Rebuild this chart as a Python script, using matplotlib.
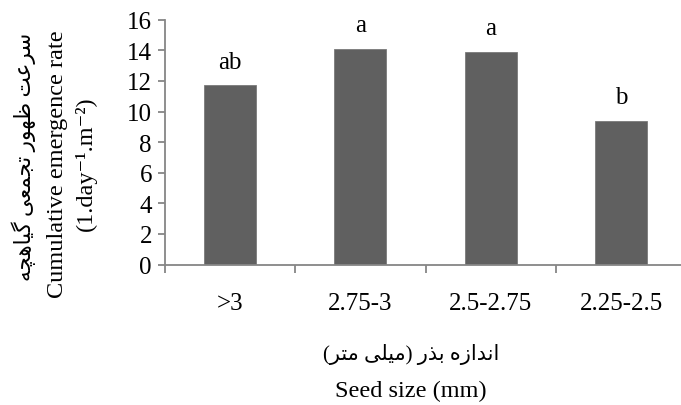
import matplotlib
matplotlib.use('Agg')
import matplotlib.pyplot as plt
import numpy as np

sizes = ['>3', '2.75-3', '2.5-2.75', '2.25-2.5']
rate = [11.7, 14.1, 13.9, 9.4]
groups = ['ab', 'a', 'a', 'b']

ylabel_fa = 'سرعت ظهور تجمعی گیاهچه'
ylabel_en = 'Cumulative emergence rate'
ylabel_unit = '(1.day⁻¹.m⁻²)'
xlabel_fa = 'اندازه بذر (میلی متر)'
xlabel_en = 'Seed size (mm)'

# isolated, final, initial, medial presentation forms
FORMS = {
    'ا': ('\uFE8D', '\uFE8E', None, None),
    'ب': ('\uFE8F', '\uFE90', '\uFE91', '\uFE92'),
    'ت': ('\uFE95', '\uFE96', '\uFE97', '\uFE98'),
    'ج': ('\uFE9D', '\uFE9E', '\uFE9F', '\uFEA0'),
    'د': ('\uFEA9', '\uFEAA', None, None),
    'ذ': ('\uFEAB', '\uFEAC', None, None),
    'ر': ('\uFEAD', '\uFEAE', None, None),
    'ز': ('\uFEAF', '\uFEB0', None, None),
    'س': ('\uFEB1', '\uFEB2', '\uFEB3', '\uFEB4'),
    'ظ': ('\uFEC5', '\uFEC6', '\uFEC7', '\uFEC8'),
    'ع': ('\uFEC9', '\uFECA', '\uFECB', '\uFECC'),
    'ل': ('\uFEDD', '\uFEDE', '\uFEDF', '\uFEE0'),
    'م': ('\uFEE1', '\uFEE2', '\uFEE3', '\uFEE4'),
    'ن': ('\uFEE5', '\uFEE6', '\uFEE7', '\uFEE8'),
    'ه': ('\uFEE9', '\uFEEA', '\uFEEB', '\uFEEC'),
    'و': ('\uFEED', '\uFEEE', None, None),
    'چ': ('\uFB7A', '\uFB7B', '\uFB7C', '\uFB7D'),
    'گ': ('\uFB92', '\uFB93', '\uFB94', '\uFB95'),
    'ی': ('\uFBFC', '\uFBFD', '\uFBFE', '\uFBFF'),
}


def persian(text):
    # matplotlib has no shaping/bidi, so pick joined forms and reverse by hand
    out = []
    for i, ch in enumerate(text):
        if ch not in FORMS:
            out.append(ch)
            continue
        f = FORMS[ch]
        prev = text[i - 1] if i > 0 else ''
        nxt = text[i + 1] if i + 1 < len(text) else ''
        join_prev = prev in FORMS and FORMS[prev][2] is not None
        join_next = nxt in FORMS and f[2] is not None
        if join_prev and join_next:
            out.append(f[3])
        elif join_prev:
            out.append(f[1])
        elif join_next:
            out.append(f[2])
        else:
            out.append(f[0])
    mirror = {'(': ')', ')': '('}
    return ''.join(mirror.get(c, c) for c in reversed(out))


plt.rcParams['font.family'] = ['Liberation Serif', 'DejaVu Sans']

W, H = 681, 406
fig = plt.figure(figsize=(W / 100, H / 100), dpi=100)
ax = fig.add_axes([164.5 / W, 1 - 265.5 / H, 522 / W, 244.8 / H])

x = np.arange(len(sizes))
ax.bar(x, rate, width=0.4, color='#606060', edgecolor='#7a7a7a', linewidth=0.6, zorder=2)
for xi, v, g in zip(x, rate, groups):
    ax.text(xi, v + 1.55, g, ha='center', va='center', fontsize=18)

ax.set_xlim(-0.5, 3.5)
ax.set_ylim(0, 16)
ax.set_yticks(np.arange(0, 17, 2))
ax.set_xticks(np.arange(-0.5, 3.6, 1))
ax.set_xticklabels([])
ax.set_xticks(x, minor=True)
ax.set_xticklabels(sizes, minor=True)
ax.tick_params(axis='x', which='minor', length=0, pad=20, labelsize=18)
ax.tick_params(axis='x', which='major', length=5.5, width=1.3, color='#868686')
ax.tick_params(axis='y', length=5, width=1.3, color='#868686', labelsize=18, pad=4)
for s in ['top', 'right']:
    ax.spines[s].set_visible(False)
for s in ['left', 'bottom']:
    ax.spines[s].set_color('#868686')
    ax.spines[s].set_linewidth(1.3)
ax.spines['bottom'].set_clip_on(False)

fig.text(24 / W, 1 - 157 / H, persian(ylabel_fa), rotation=90, ha='center', va='center', fontsize=15.5)
fig.text(57 / W, 1 - 164 / H, ylabel_en, rotation=90, ha='center', va='center', fontsize=17.5)
fig.text(86 / W, 1 - 164 / H, ylabel_unit, rotation=90, ha='center', va='center', fontsize=17.5)
fig.text(411 / W, 1 - 355 / H, persian(xlabel_fa), ha='center', va='center', fontsize=15)
fig.text(411 / W, 1 - 391 / H, xlabel_en, ha='center', va='center', fontsize=17.5)

fig.savefig('out.png', dpi=100)
